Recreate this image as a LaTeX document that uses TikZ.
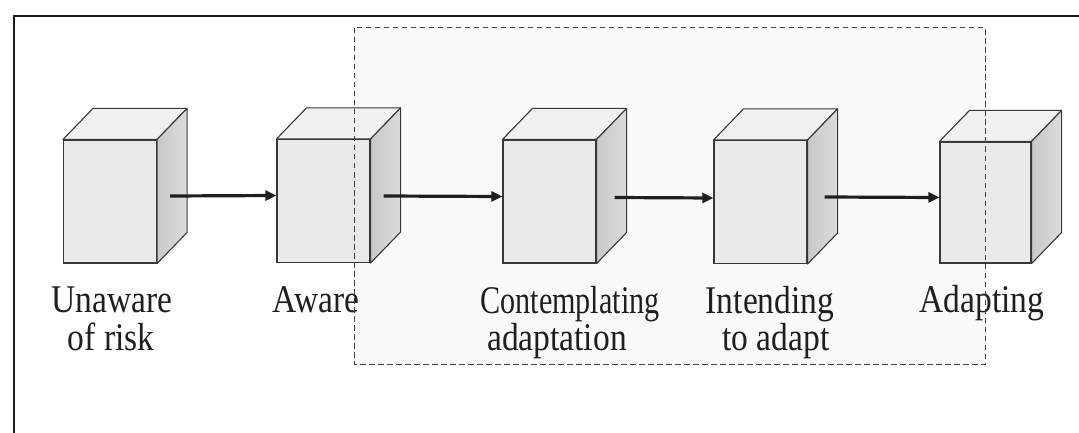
\documentclass[tikz,border=0pt]{standalone}
\usepackage{fontspec}
\setmainfont{Liberation Serif}
\usetikzlibrary{arrows.meta}
\definecolor{edge}{HTML}{383838}
\definecolor{frontgray}{HTML}{EAEAEA}
\definecolor{topgray}{HTML}{F1F1F1}
\definecolor{sidedark}{HTML}{C8C8C8}
\definecolor{sidelight}{HTML}{DCDCDC}
\definecolor{dashgray}{HTML}{404040}
% slightly tall serif lettering used for the stage names
\newcommand{\tallword}[1]{\scalebox{1}[1.17]{#1}}
\tikzset{
  front/.style={draw=edge, fill=frontgray, line width=1.1pt, inner sep=0pt,
    minimum width=93pt, minimum height=123pt},
  topface/.style={draw=edge, fill=topgray, line width=1.1pt, line join=round},
  sideface/.style={draw=edge, left color=sidedark, right color=sidelight, line width=1.1pt, line join=round},
  stage/.style={inner sep=0pt, anchor=base,
    font=\fontsize{33.5}{38}\selectfont, text=black!88},
  flow/.style={draw=black!88, line width=3.2pt, -{Triangle[length=11pt,width=10pt]}},
  region/.style={draw=dashgray, line width=1pt, dash pattern=on 5.5pt off 3.5pt},
  frame/.style={draw=black!90, line width=1.9pt}
}
\begin{document}
\begin{tikzpicture}[x=1pt,y=-1pt]
  \useasboundingbox (0,0) rectangle (1079,433);
  % outer frame (top and left edges)
  \draw[frame] (14,433) -- (14,16) -- (1079,16);
  % shaded region behind the later stages
  \fill[black!2] (354,28) rectangle (985,364);
  % front faces of the stage boxes
  \node[front] (c1) at (110,201.5) {};
  \node[front] (c2) at (323.5,201) {};
  \node[front] (c3) at (549.5,201.5) {};
  \node[front] (c4) at (760.5,202) {};
  \node[front, minimum width=91pt, minimum height=121pt] (c5) at (985.5,202.5) {};
  % top and side faces
  \foreach \n in {c1,c2,c3,c4,c5}{
    \path[topface] (\n.north west) -- ([shift={(30pt,31pt)}]\n.north west)
      -- ([shift={(30pt,31pt)}]\n.north east) -- (\n.north east) -- cycle;
    \path[sideface] (\n.north east) -- ([shift={(30pt,31pt)}]\n.north east)
      -- ([shift={(30pt,31pt)}]\n.south east) -- (\n.south east) -- cycle;
  }
  % transitions between stages
  \draw[flow] ([xshift=13pt,yshift=5.5pt]c1.east) -- ([yshift=5.5pt]c2.west);
  \draw[flow] ([xshift=13pt,yshift=5pt]c2.east) -- ([yshift=5pt]c3.west);
  \draw[flow] ([xshift=18pt,yshift=4pt]c3.east) -- ([yshift=4pt]c4.west);
  \draw[flow] ([xshift=17pt,yshift=5pt]c4.east) -- ([yshift=5pt]c5.west);
  % stage labels
  \node[stage] (l1a) at (112,312) {\tallword{Unaware}};
  \node[stage] (l1b) at (111,350) {\tallword{of risk}};
  \node[stage] (l2)  at (316,312) {\tallword{Aware}};
  \node[stage] (l3a) at (570,313) {\scalebox{0.9}[1.17]{Contemplating}};
  \node[stage] (l3b) at (557,350) {\tallword{adaptation}};
  \node[stage] (l4a) at (770,313) {\tallword{Intending}};
  \node[stage] (l4b) at (776,350) {\tallword{to adapt}};
  \node[stage] (l5)  at (982,312) {\tallword{Adapting}};
  % dashed outline of the region
  \draw[region] (354,28) rectangle (985,364);
\end{tikzpicture}
\end{document}
